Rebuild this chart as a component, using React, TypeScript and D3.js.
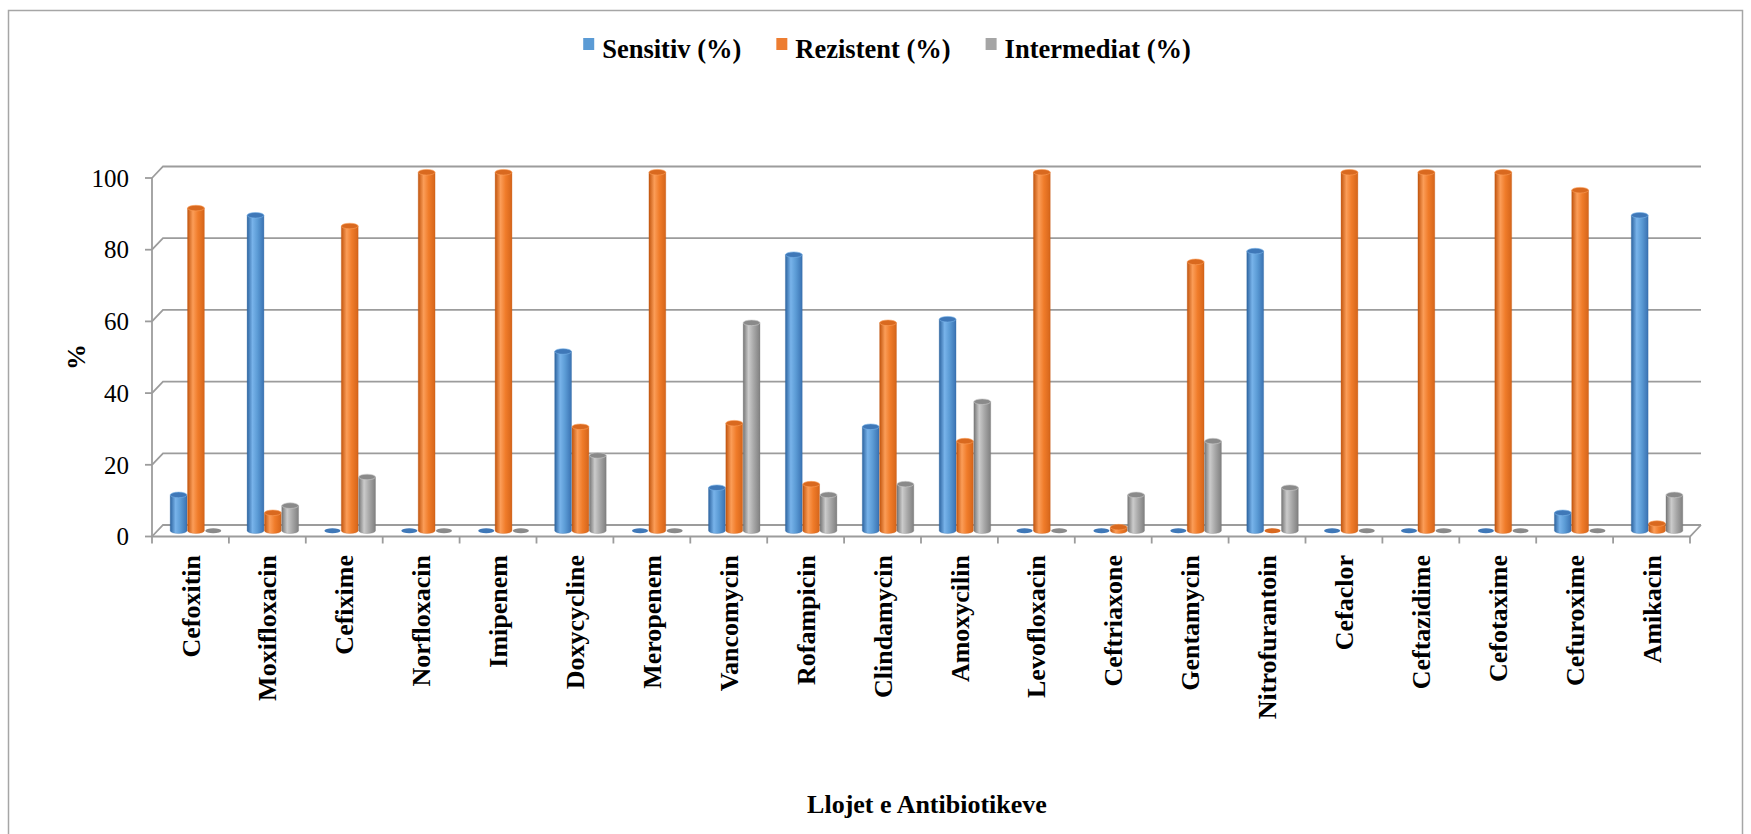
import React, { useEffect, useRef } from "react";
import * as d3 from "d3";

// Antibiotic susceptibility results, percent per antibiotic
const categories = [
  "Cefoxitin", "Moxifloxacin", "Cefixime", "Norfloxacin", "Imipenem",
  "Doxycycline", "Meropenem", "Vancomycin", "Rofampicin", "Clindamycin",
  "Amoxycilin", "Levofloxacin", "Ceftriaxone", "Gentamycin", "Nitrofurantoin",
  "Cefaclor", "Ceftazidime", "Cefotaxime", "Cefuroxime", "Amikacin",
];
const sensitiv = [10, 88, 0, 0, 0, 50, 0, 12, 77, 29, 59, 0, 0, 0, 78, 0, 0, 0, 5, 88];
const rezistent = [90, 5, 85, 100, 100, 29, 100, 30, 13, 58, 25, 100, 1, 75, 0, 100, 100, 100, 95, 2];
const intermediat = [0, 7, 15, 0, 0, 21, 0, 58, 10, 13, 36, 0, 10, 25, 12, 0, 0, 0, 0, 10];
const seriesNames = ["Sensitiv (%)", "Rezistent (%)", "Intermediat (%)"];
const yTicks = [0, 20, 40, 60, 80, 100];
const xTitle = "Llojet e Antibiotikeve";
const yTitle = "%";

const W = 1751;
const H = 834;
const SERIF = "'Liberation Serif', 'Times New Roman', serif";

// cylinder shading per series: [edge dark, highlight, base, right shade, cap]
const palettes = [
  ["#2d64a0", "#78b3ea", "#5b9bd5", "#3a72b2", "#3f78b8"],
  ["#c2550e", "#fb9d58", "#f07c2a", "#d5651a", "#d9691f"],
  ["#767676", "#cbcbcb", "#a8a8a8", "#808080", "#8a8a8a"],
];
const legendSwatch = ["#5b9bd5", "#ed7d31", "#a5a5a5"];

export default function App() {
  const ref = useRef<SVGSVGElement | null>(null);

  useEffect(() => {
    const svg = d3.select(ref.current);
    svg.selectAll("*").remove();

    const values = [sensitiv, rezistent, intermediat];

    // 3D box geometry: front plane, back wall and the mid-depth plane the bars stand in
    const xL = 152, xR = 1690;
    const dx = 11, dy = -11.5;
    const yFront = d3.scaleLinear().domain([0, 100]).range([536.5, 178]);
    const yBack = (v: number) => yFront(v) + dy;
    const yMid = (v: number) => yFront(v) + dy / 2;

    const x0 = d3.scaleBand<string>().domain(categories).range([xL, xR]).paddingInner(0).paddingOuter(0);
    const x1 = d3.scaleBand<string>().domain(seriesNames).range([-26, 26]);

    const defs = svg.append("defs");
    palettes.forEach((p, i) => {
      const g = defs.append("linearGradient")
        .attr("id", `cyl${i}`).attr("x1", "0").attr("x2", "1").attr("y1", "0").attr("y2", "0");
      g.append("stop").attr("offset", "0%").attr("stop-color", p[0]);
      g.append("stop").attr("offset", "32%").attr("stop-color", p[1]);
      g.append("stop").attr("offset", "62%").attr("stop-color", p[2]);
      g.append("stop").attr("offset", "100%").attr("stop-color", p[3]);
    });

    svg.append("rect").attr("x", 0).attr("y", 0).attr("width", W).attr("height", H).attr("fill", "#fff");

    // outer chart frame
    svg.append("rect")
      .attr("x", 8.5).attr("y", 10.5).attr("width", 1734).attr("height", 860)
      .attr("fill", "none").attr("stroke", "#a6a6a6").attr("stroke-width", 1.5);

    const gridColor = "#9c9c9c";
    const grid = svg.append("g").attr("stroke", gridColor).attr("stroke-width", 1.8).attr("fill", "none");

    // floor
    grid.append("path")
      .attr("d", `M${xL},${yFront(0)} L${xR},${yFront(0)} L${xR + dx},${yBack(0)}`);
    // gridlines across the side wall and back wall
    yTicks.forEach((t) => {
      grid.append("path")
        .attr("d", `M${xL},${yFront(t)} L${xL + dx},${yBack(t)} L${xR + dx},${yBack(t)}`);
      grid.append("line")
        .attr("x1", xL - 7).attr("x2", xL).attr("y1", yFront(t)).attr("y2", yFront(t));
    });
    // vertical axis line
    grid.append("line").attr("x1", xL).attr("x2", xL).attr("y1", yFront(100)).attr("y2", yFront(0));
    // category ticks
    d3.range(categories.length + 1).forEach((i) => {
      const x = xL + i * x0.step();
      grid.append("line").attr("x1", x).attr("x2", x).attr("y1", yFront(0)).attr("y2", yFront(0) + 7);
    });

    // y tick labels
    svg.append("g").selectAll("text").data(yTicks).join("text")
      .attr("x", 129).attr("y", (d) => yFront(d))
      .attr("dy", "0.35em").attr("text-anchor", "end")
      .attr("font-family", SERIF).attr("font-size", 25).attr("fill", "#000")
      .text((d) => String(d));

    // cylinders
    const barW = x1.bandwidth() * 0.97;
    const rx = barW / 2;
    const ry = 2.8;
    const bars = svg.append("g");
    categories.forEach((c, ci) => {
      const cx0 = (x0(c) as number) + x0.bandwidth() / 2 + dx / 2;
      seriesNames.forEach((s, si) => {
        const v = values[si][ci];
        const cx = cx0 + (x1(s) as number) + x1.bandwidth() / 2;
        const yb = yMid(0);
        const yt = yMid(v);
        const p = palettes[si];
        if (v > 0) {
          bars.append("path")
            .attr("d", `M${cx - rx},${yt} L${cx - rx},${yb} A${rx},${ry} 0 0 0 ${cx + rx},${yb} L${cx + rx},${yt} Z`)
            .attr("fill", `url(#cyl${si})`)
            .attr("stroke", p[0]).attr("stroke-width", 0.5).attr("stroke-opacity", 0.6);
          bars.append("ellipse")
            .attr("cx", cx).attr("cy", yt).attr("rx", rx).attr("ry", ry)
            .attr("fill", p[4]).attr("stroke", p[1]).attr("stroke-width", 0.6);
        } else {
          bars.append("ellipse")
            .attr("cx", cx).attr("cy", yb).attr("rx", rx * 0.95).attr("ry", ry * 0.9)
            .attr("fill", p[4]);
        }
      });
    });

    // category labels, rotated
    svg.append("g").selectAll("text").data(categories).join("text")
      .attr("transform", (d) => `translate(${(x0(d) as number) + x0.bandwidth() / 2},555) rotate(-90)`)
      .attr("dy", "0.35em").attr("text-anchor", "end")
      .attr("font-family", SERIF).attr("font-weight", "bold").attr("font-size", 26).attr("fill", "#000")
      .text((d) => d);

    // axis titles
    svg.append("text")
      .attr("transform", "translate(76,357) rotate(-90)")
      .attr("dy", "0.35em").attr("text-anchor", "middle")
      .attr("font-family", SERIF).attr("font-weight", "bold").attr("font-size", 26).attr("fill", "#000")
      .text(yTitle);
    svg.append("text")
      .attr("x", 927).attr("y", 813).attr("text-anchor", "middle")
      .attr("font-family", SERIF).attr("font-weight", "bold").attr("font-size", 26).attr("fill", "#000")
      .text(xTitle);

    // legend, laid out from measured text widths and centred
    const legend = svg.append("g");
    let cursor = 0;
    const items: { g: any; w: number }[] = [];
    seriesNames.forEach((s, i) => {
      const g = legend.append("g");
      g.append("rect").attr("x", 0).attr("y", -11).attr("width", 11).attr("height", 12).attr("fill", legendSwatch[i]);
      const t = g.append("text").attr("x", 19).attr("y", 0).attr("dy", "0.35em")
        .attr("font-family", SERIF).attr("font-weight", "bold").attr("font-size", 26.5).attr("fill", "#000")
        .text(s);
      const tw = (t.node() as SVGTextElement).getComputedTextLength();
      items.push({ g, w: 19 + tw });
    });
    const gap = 35;
    const total = d3.sum(items, (d) => d.w) + gap * (items.length - 1);
    cursor = 887 - total / 2;
    items.forEach((it) => {
      it.g.attr("transform", `translate(${cursor},49)`);
      cursor += it.w + gap;
    });
  }, []);

  return (
    <svg
      ref={ref}
      width={W}
      height={H}
      style={{ position: "absolute", left: 0, top: 0, display: "block" }}
    />
  );
}
